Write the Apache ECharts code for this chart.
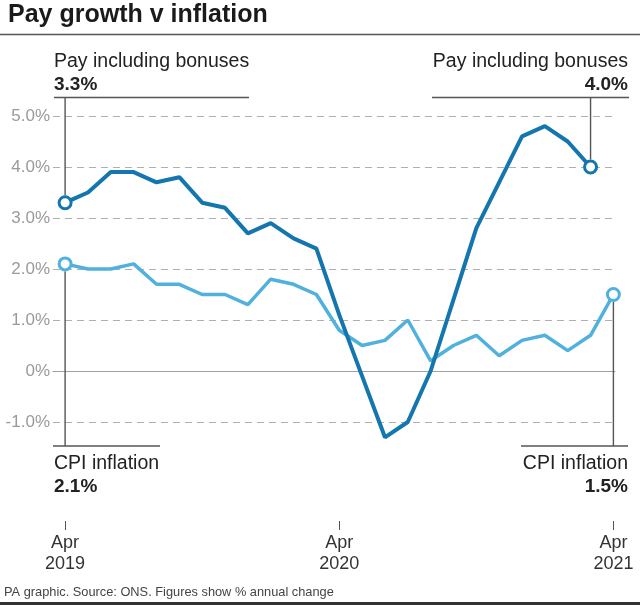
<!DOCTYPE html>
<html>
<head>
<meta charset="utf-8">
<script src="https://cdn.jsdelivr.net/npm/echarts@6/dist/echarts.min.js"></script>
<style>
html,body{margin:0;padding:0;background:#fff;}
#c{width:640px;height:605px;}
</style>
</head>
<body>
<div id="c"></div>
<script>
// Months Apr 2019 .. Apr 2021
const months = ['Apr 2019','May 2019','Jun 2019','Jul 2019','Aug 2019','Sep 2019','Oct 2019','Nov 2019','Dec 2019',
  'Jan 2020','Feb 2020','Mar 2020','Apr 2020','May 2020','Jun 2020','Jul 2020','Aug 2020','Sep 2020','Oct 2020',
  'Nov 2020','Dec 2020','Jan 2021','Feb 2021','Mar 2021','Apr 2021'];
// Pay including bonuses (% annual change), Apr 2019 .. Mar 2021
const payBonuses = [3.3,3.5,3.9,3.9,3.7,3.8,3.3,3.2,2.7,2.9,2.6,2.4,1.1,-0.1,-1.3,-1.0,0.0,1.4,2.8,3.7,4.6,4.8,4.5,4.0];
// CPI inflation (% annual change), Apr 2019 .. Apr 2021
const cpiInflation = [2.1,2.0,2.0,2.1,1.7,1.7,1.5,1.5,1.3,1.8,1.7,1.5,0.8,0.5,0.6,1.0,0.2,0.5,0.7,0.3,0.6,0.7,0.4,0.7,1.5];
// Axis ticks
const yTicks = [-1,0,1,2,3,4,5];
const xTickIdx = [0,12,24];
const xTickLabels = ['Apr\n2019','Apr\n2020','Apr\n2021'];

const DARK = '#1476ae';
const LIGHT = '#4fb1dc';
const FONT = 'Liberation Sans, Arial, sans-serif';

const chart = echarts.init(document.getElementById('c'), null, {renderer:'canvas'});
const toXY = arr => arr.map((v,i)=>[i,v]);
const ends = arr => [[0,arr[0]],[arr.length-1,arr[arr.length-1]]];

chart.setOption({
  animation:false,
  backgroundColor:'#fff',
  grid:{left:53,right:25,top:116,bottom:183,containLabel:false},
  xAxis:[{
    type:'value', min:-0.53, max:24.07,
    axisLine:{show:true,onZero:true,lineStyle:{color:'#a0a0a0',width:1.2}},
    axisTick:{show:false}, axisLabel:{show:false}, splitLine:{show:false}
  },{
    type:'value', min:-0.53, max:24.07, position:'bottom', offset:99,
    axisLine:{show:false},
    axisTick:{show:true,length:9,customValues:xTickIdx,lineStyle:{color:'#555',width:1}},
    axisLabel:{show:true,customValues:xTickIdx,margin:12,
      formatter:v=>xTickLabels[xTickIdx.indexOf(Math.round(v))] || '',
      fontFamily:FONT,fontSize:18,lineHeight:21,color:'#333'},
    splitLine:{show:false}
  }],
  yAxis:{
    type:'value', min:yTicks[0], max:yTicks[yTicks.length-1], interval:1,
    axisLine:{show:false}, axisTick:{show:false},
    axisLabel:{margin:3,fontFamily:FONT,fontSize:17,color:'#9a9a9a',
      formatter:v=> v===0 ? '0%' : v.toFixed(1)+'%'},
    splitLine:{show:true,lineStyle:{color:'#b0b0b0',width:1.2,type:[7,5]}}
  },
  series:[
    {type:'line',name:'CPI inflation',data:toXY(cpiInflation),symbol:'none',clip:false,
     lineStyle:{color:LIGHT,width:3.5},z:2},
    {type:'line',name:'Pay including bonuses',data:toXY(payBonuses),symbol:'none',clip:false,
     lineStyle:{color:DARK,width:4},z:3},
    {type:'scatter',data:ends(cpiInflation),symbol:'circle',symbolSize:12,clip:false,
     itemStyle:{color:'#fff',borderColor:LIGHT,borderWidth:3,opacity:1},z:4},
    {type:'scatter',data:ends(payBonuses),symbol:'circle',symbolSize:12,clip:false,
     itemStyle:{color:'#fff',borderColor:DARK,borderWidth:3,opacity:1},z:5}
  ]
});

const P = (i,v) => chart.convertToPixel({xAxisIndex:0,yAxisIndex:0},[i,v]);
const lastPay = payBonuses.length-1, lastCpi = cpiInflation.length-1;
const pTL = P(0,payBonuses[0]), pTR = P(lastPay,payBonuses[lastPay]);
const pBL = P(0,cpiInflation[0]), pBR = P(lastCpi,cpiInflation[lastCpi]);
const R = 7.5;
const LC = '#555';
const AF = '19.5px '+FONT, AFB = 'bold 19px '+FONT;
const line = (x1,y1,x2,y2,w,c) => ({type:'line',silent:true,shape:{x1,y1,x2,y2},style:{stroke:c||LC,lineWidth:w||1.4},z:10});
const text = (x,y,t,opts) => ({type:'text',silent:true,x,y,z:10,style:Object.assign({text:t,fill:'#222',font:AF,textAlign:'left',textVerticalAlign:'middle'},opts||{})});

const fmt = v => v.toFixed(1)+'%';

chart.setOption({graphic:[
  text(8,15,'Pay growth v inflation',{font:'bold 25px '+FONT,fill:'#1a1a1a'}),
  line(0,34.5,640,34.5,1.6,'#555'),
  // top-left
  text(54,62,'Pay including bonuses'),
  text(54,85,fmt(payBonuses[0]),{font:AFB}),
  line(54,97.5,249,97.5),
  line(pTL[0],97.5,pTL[0],pTL[1]-R),
  // top-right
  text(628,62,'Pay including bonuses',{textAlign:'right'}),
  text(628,85,fmt(payBonuses[lastPay]),{textAlign:'right',font:AFB}),
  line(432,97.5,629,97.5),
  line(pTR[0],97.5,pTR[0],pTR[1]-R),
  // bottom-left
  line(53,446,160,446),
  line(pBL[0],pBL[1]+R,pBL[0],446),
  text(54,463.5,'CPI inflation'),
  text(54,486.5,fmt(cpiInflation[0]),{font:AFB}),
  // bottom-right
  line(521,446,628,446),
  line(pBR[0],pBR[1]+R,pBR[0],446),
  text(628,463.5,'CPI inflation',{textAlign:'right'}),
  text(628,486.5,fmt(cpiInflation[lastCpi]),{textAlign:'right',font:AFB}),
  // footer
  text(4,592,'PA graphic. Source: ONS. Figures show % annual change',{font:'12.8px '+FONT,fill:'#444'}),
  line(0,603.5,640,603.5,3,'#333')
]});
</script>
</body>
</html>
